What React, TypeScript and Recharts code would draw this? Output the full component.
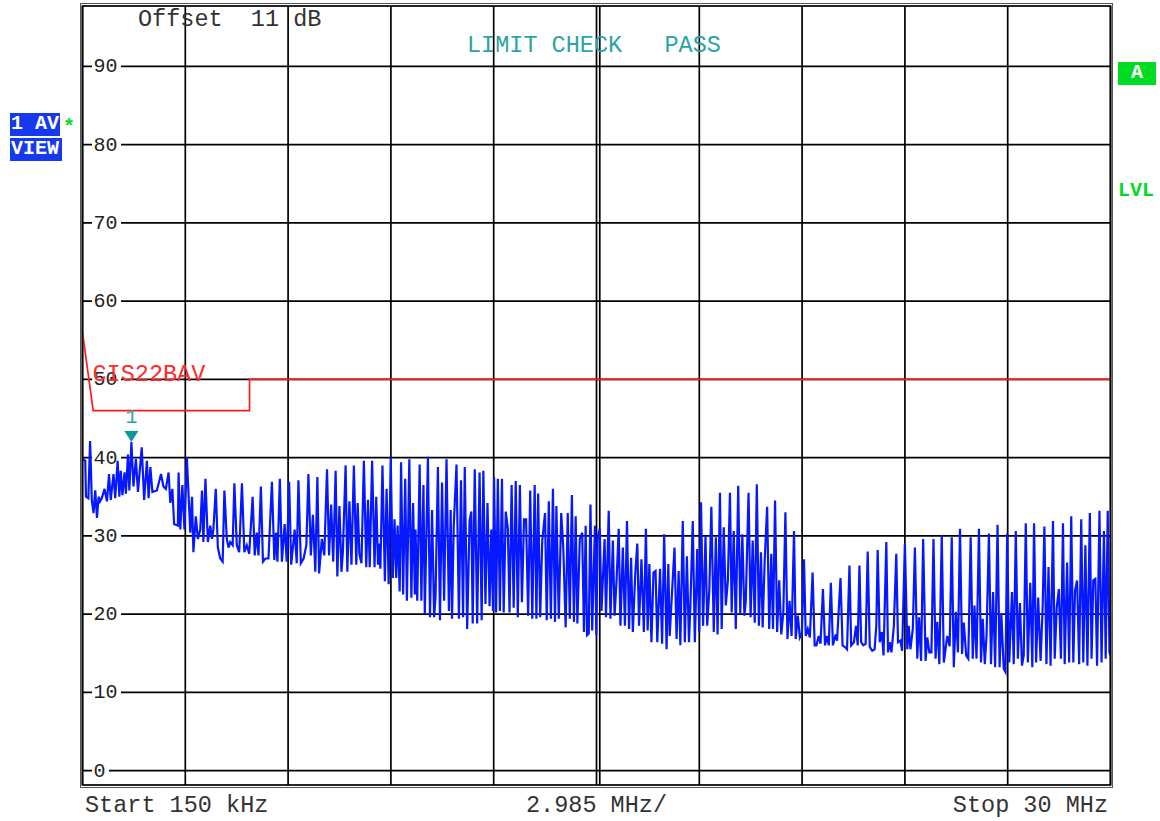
import React from 'react';
import { LineChart, Line, XAxis, YAxis, ReferenceLine, ReferenceDot } from 'recharts';

// trace, [MHz, dBuV], one array per division
const traceDiv0: [number, number][] = [
  [0.15, 39.8], [0.23, 39.6], [0.25, 35.0], [0.32, 34.8], [0.37, 42.1], [0.42, 34.6], [0.47, 32.9], [0.52, 35.8],
  [0.57, 32.3], [0.62, 35.0], [0.66, 34.4], [0.71, 34.8], [0.79, 36.0], [0.86, 34.4], [0.92, 37.9], [0.97, 34.6],
  [1.05, 37.9], [1.10, 34.8], [1.17, 39.6], [1.22, 35.0], [1.26, 38.3], [1.31, 35.2], [1.37, 38.1], [1.41, 35.4],
  [1.47, 40.4], [1.51, 35.8], [1.57, 42.0], [1.63, 36.3], [1.70, 39.8], [1.76, 35.6], [1.87, 41.3], [1.94, 34.6],
  [2.02, 39.6], [2.07, 34.8], [2.12, 38.8], [2.18, 35.6], [2.31, 35.8], [2.43, 37.9], [2.50, 36.3], [2.57, 36.0],
  [2.65, 38.1], [2.70, 34.2], [2.76, 36.0], [2.81, 31.5], [2.92, 31.3], [2.94, 38.1], [2.99, 30.8], [3.05, 36.5],
  [3.11, 30.8],
];
const traceDiv1: [number, number][] = [
  [3.18, 40.0], [3.28, 30.4], [3.33, 35.0], [3.37, 27.9], [3.44, 32.5], [3.50, 29.6], [3.57, 30.8], [3.62, 35.8],
  [3.66, 29.2], [3.72, 37.3], [3.79, 29.2], [3.86, 31.3], [3.91, 29.6], [3.95, 30.8], [4.02, 36.0], [4.08, 28.5],
  [4.15, 27.1], [4.22, 26.7], [4.27, 35.8], [4.34, 29.6], [4.39, 28.5], [4.44, 29.2], [4.51, 28.8], [4.56, 36.7],
  [4.63, 28.8], [4.70, 27.9], [4.78, 36.7], [4.85, 27.9], [4.92, 28.8], [4.99, 27.7], [5.09, 35.0], [5.15, 27.5],
  [5.21, 30.4], [5.26, 27.5], [5.33, 36.3], [5.39, 26.7], [5.46, 27.1], [5.55, 27.1], [5.65, 36.9], [5.72, 26.9],
  [5.77, 30.4], [5.81, 26.7], [5.88, 37.3], [5.94, 26.7], [6.02, 31.5], [6.08, 26.7],
];
const traceDiv2: [number, number][] = [
  [6.15, 36.9], [6.21, 26.3], [6.31, 30.8], [6.37, 26.5], [6.42, 37.1], [6.49, 26.5], [6.57, 27.1], [6.65, 28.8],
  [6.71, 37.9], [6.78, 27.5], [6.84, 32.7], [6.91, 25.4], [6.97, 37.5], [7.02, 25.2], [7.10, 29.6], [7.17, 27.5],
  [7.25, 38.5], [7.31, 27.5], [7.37, 34.0], [7.43, 26.7], [7.50, 38.3], [7.55, 24.8], [7.61, 33.8], [7.67, 25.4],
  [7.71, 27.9], [7.79, 39.0], [7.84, 25.4], [7.90, 34.4], [7.96, 26.3], [8.03, 39.0], [8.10, 26.3], [8.14, 34.2],
  [8.19, 27.7], [8.25, 26.5], [8.32, 39.6], [8.39, 26.0], [8.44, 34.6], [8.49, 26.0], [8.56, 39.6], [8.63, 26.0],
  [8.68, 35.0], [8.73, 26.3], [8.75, 29.0], [8.80, 25.8], [8.86, 39.0], [8.93, 24.2], [8.98, 36.0], [9.04, 23.8],
];
const traceDiv3: [number, number][] = [
  [9.10, 40.0], [9.16, 24.6], [9.21, 32.1], [9.26, 24.6], [9.30, 31.3], [9.36, 22.9], [9.40, 39.4], [9.46, 22.5],
  [9.52, 37.3], [9.57, 21.7], [9.64, 39.8], [9.70, 22.1], [9.75, 34.2], [9.80, 22.5], [9.82, 30.8], [9.87, 21.7],
  [9.94, 39.1], [9.99, 21.7], [10.05, 36.5], [10.09, 20.0], [10.18, 40.1], [10.24, 19.6], [10.30, 33.3], [10.36, 19.6],
  [10.40, 22.1], [10.47, 38.8], [10.53, 19.2], [10.59, 36.8], [10.65, 21.7], [10.72, 39.8], [10.79, 20.4], [10.84, 33.3],
  [10.88, 19.4], [10.93, 31.3], [11.01, 39.1], [11.08, 19.4], [11.14, 37.1], [11.20, 19.6], [11.25, 38.8], [11.32, 18.1],
  [11.39, 31.9], [11.44, 33.1], [11.48, 18.8], [11.54, 38.5], [11.61, 18.8], [11.68, 38.1], [11.74, 19.2], [11.79, 38.3],
  [11.85, 21.3], [11.91, 34.2], [11.97, 21.0], [12.02, 30.8], [12.07, 20.4],
];
const traceDiv4: [number, number][] = [
  [12.10, 37.5], [12.16, 20.2], [12.21, 37.3], [12.27, 20.4], [12.33, 37.3], [12.38, 20.2], [12.44, 33.1], [12.50, 31.0],
  [12.55, 20.2], [12.61, 36.5], [12.67, 20.8], [12.73, 37.0], [12.79, 19.6], [12.85, 36.5], [12.91, 21.5], [12.97, 32.1],
  [13.03, 32.1], [13.09, 19.8], [13.15, 35.8], [13.21, 19.4], [13.28, 36.5], [13.33, 19.4], [13.38, 35.4], [13.44, 19.6],
  [13.50, 29.4], [13.58, 32.9], [13.63, 19.2], [13.69, 34.4], [13.75, 19.4], [13.81, 36.0], [13.87, 19.0], [13.91, 33.8],
  [13.98, 19.4], [14.05, 32.9], [14.11, 28.5], [14.18, 18.3], [14.24, 32.9], [14.30, 19.4], [14.36, 35.2], [14.42, 19.0],
  [14.47, 32.5], [14.52, 18.8], [14.59, 29.6], [14.66, 30.4], [14.71, 17.7], [14.76, 31.3], [14.80, 17.3], [14.85, 17.5],
  [14.90, 34.0], [14.95, 17.9], [15.03, 31.3], [15.07, 17.3],
];
const traceDiv5: [number, number][] = [
  [15.11, 29.8], [15.17, 30.9], [15.22, 20.4], [15.31, 29.6], [15.35, 19.6], [15.43, 33.2], [15.48, 19.4], [15.55, 29.4],
  [15.60, 19.8], [15.66, 24.5], [15.72, 30.9], [15.77, 18.5], [15.84, 28.5], [15.90, 18.5], [15.96, 31.9], [16.02, 18.1],
  [16.08, 27.2], [16.13, 17.7], [16.20, 25.1], [16.26, 29.0], [16.31, 18.5], [16.38, 27.0], [16.45, 17.7], [16.51, 30.9],
  [16.56, 17.9], [16.61, 26.4], [16.67, 16.4], [16.73, 25.3], [16.79, 25.5], [16.84, 16.4], [16.92, 25.8], [16.98, 16.2],
  [17.04, 30.2], [17.11, 15.5], [17.16, 26.4], [17.20, 17.2], [17.26, 22.1], [17.34, 28.5], [17.40, 16.8], [17.46, 25.5],
  [17.51, 16.0], [17.58, 31.9], [17.64, 16.4], [17.70, 27.4], [17.76, 16.4], [17.80, 20.9], [17.87, 31.9], [17.93, 16.4],
  [18.00, 28.3],
];
const traceDiv6: [number, number][] = [
  [18.06, 17.7], [18.11, 34.3], [18.17, 18.5], [18.24, 30.0], [18.29, 18.5], [18.35, 23.0], [18.41, 33.7], [18.48, 17.7],
  [18.54, 29.8], [18.59, 17.4], [18.66, 35.5], [18.71, 18.1], [18.77, 31.1], [18.83, 21.1], [18.89, 24.3], [18.95, 35.5],
  [19.00, 20.2], [19.06, 30.6], [19.12, 18.1], [19.19, 36.4], [19.25, 20.0], [19.31, 30.2], [19.37, 19.8], [19.41, 21.7],
  [19.49, 35.5], [19.55, 19.6], [19.61, 29.4], [19.67, 18.9], [19.73, 36.6], [19.79, 18.5], [19.85, 27.9], [19.90, 18.3],
  [19.96, 27.0], [20.03, 33.7], [20.09, 18.1], [20.15, 27.7], [20.20, 18.1], [20.26, 34.5], [20.32, 17.7], [20.38, 24.3],
  [20.44, 17.4], [20.50, 20.2], [20.56, 33.0], [20.62, 16.8], [20.68, 21.7], [20.74, 17.2], [20.81, 30.6], [20.86, 16.8],
  [20.92, 19.8], [20.98, 17.0],
];
const traceDiv7: [number, number][] = [
  [21.04, 17.6], [21.10, 27.0], [21.15, 17.2], [21.21, 18.1], [21.27, 17.0], [21.35, 25.3], [21.41, 16.0], [21.46, 16.0],
  [21.53, 17.2], [21.58, 16.2], [21.65, 23.2], [21.71, 16.0], [21.77, 17.2], [21.82, 16.0], [21.88, 24.0], [21.94, 16.0],
  [22.02, 17.4], [22.06, 16.6], [22.16, 24.6], [22.22, 16.0], [22.31, 15.7], [22.35, 15.5], [22.42, 26.2], [22.47, 16.0],
  [22.55, 16.4], [22.61, 18.5], [22.66, 16.0], [22.71, 26.2], [22.76, 16.4], [22.82, 16.0], [22.89, 16.2], [22.95, 28.0],
  [23.01, 15.8], [23.08, 15.3], [23.15, 15.5], [23.20, 18.5], [23.24, 28.2], [23.30, 16.4], [23.36, 17.7], [23.41, 14.7],
  [23.49, 29.2], [23.54, 15.1], [23.59, 16.4], [23.64, 15.1], [23.71, 18.5], [23.78, 27.7], [23.83, 16.4], [23.90, 16.6],
  [23.95, 15.3],
];
const traceDiv8: [number, number][] = [
  [24.03, 29.0], [24.10, 15.5], [24.14, 18.5], [24.19, 15.5], [24.26, 18.1], [24.32, 28.5], [24.39, 14.3], [24.44, 19.6],
  [24.50, 14.0], [24.56, 29.6], [24.63, 14.0], [24.68, 17.0], [24.74, 15.1], [24.80, 15.1], [24.86, 29.6], [24.92, 14.3],
  [24.97, 19.0], [25.03, 13.6], [25.10, 30.1], [25.16, 13.8], [25.26, 17.2], [25.33, 15.9], [25.39, 29.8], [25.45, 13.2],
  [25.51, 20.3], [25.57, 15.1], [25.63, 30.9], [25.69, 14.9], [25.74, 18.9], [25.81, 14.7], [25.87, 14.3], [25.94, 29.8],
  [26.00, 14.3], [26.05, 21.1], [26.11, 14.3], [26.18, 30.9], [26.24, 13.8], [26.29, 19.4], [26.35, 13.6], [26.40, 17.2],
  [26.47, 30.3], [26.53, 13.6], [26.59, 22.8], [26.65, 13.2], [26.72, 31.4], [26.78, 13.2], [26.83, 20.0], [26.90, 13.0],
  [26.95, 12.6],
];
const traceDiv9: [number, number][] = [
  [27.00, 30.3], [27.06, 13.8], [27.14, 22.8], [27.19, 13.6], [27.25, 30.6], [27.31, 14.3], [27.37, 21.4], [27.43, 13.4],
  [27.48, 14.7], [27.54, 31.6], [27.60, 13.8], [27.67, 24.0], [27.73, 13.2], [27.78, 31.6], [27.84, 13.8], [27.90, 22.1],
  [27.97, 14.0], [28.03, 20.9], [28.08, 31.2], [28.14, 13.6], [28.20, 26.0], [28.26, 13.4], [28.33, 31.9], [28.38, 14.3],
  [28.44, 20.9], [28.50, 23.2], [28.56, 14.3], [28.62, 31.6], [28.67, 13.6], [28.74, 26.6], [28.80, 13.8], [28.86, 32.5],
  [28.92, 13.8], [28.97, 23.0], [29.03, 24.3], [29.09, 13.6], [29.15, 32.1], [29.21, 13.8], [29.27, 28.8], [29.33, 13.4],
  [29.40, 32.9], [29.45, 14.3], [29.50, 24.3], [29.56, 24.5], [29.61, 13.4], [29.68, 33.2], [29.74, 13.8], [29.81, 30.6],
  [29.86, 14.3], [29.92, 33.2], [29.97, 15.1], [30.00, 14.7],
];

// CISPR 22 class B average limit
const limitMHz = [0.15, 0.46, 5.0, 5.0, 30.0];
const limitDb = [56, 46, 46, 50, 50];

const freqGrid = [0.15, 3.135, 6.12, 9.105, 12.09, 15.075, 18.06, 21.045, 24.03, 27.015, 30];
const dbTicks = [0, 10, 20, 30, 40, 50, 60, 70, 80, 90];
const centerSecondLine = 15.17;
const marker = { f: 1.57, db: 42.0, label: '1' };

const trace = [
  ...traceDiv0, ...traceDiv1, ...traceDiv2, ...traceDiv3, ...traceDiv4,
  ...traceDiv5, ...traceDiv6, ...traceDiv7, ...traceDiv8, ...traceDiv9,
].map(([f, v]) => ({ f, v }));
const limit = limitMHz.map((f, i) => ({ f, v: limitDb[i] }));

const W = 1160;
const H = 821;
const PLOT_LEFT = 82.5;
const PLOT_RIGHT = 1110.5;
const PLOT_TOP = 6;
const PLOT_BOTTOM = 785;
const MONO = '"Liberation Mono", "DejaVu Sans Mono", monospace';
const BLUE_BOX = '#1638ef';
const GREEN = '#00dc22';
const TEAL = '#2aa4a4';
const GRID = '#000';

// keep runs of spaces in svg text
const sp = (s: string) => s.replace(/ /g, '\u00a0');

const dbLabel = (value: number) => (props: any) => {
  const vb = props.viewBox || {};
  const y = vb.y ?? 0;
  const label = String(value);
  return (
    <g>
      <rect x={PLOT_LEFT + 9.5} y={y - 8} width={label.length * 12 + 5} height={16} fill="#fff" />
      <text x={PLOT_LEFT + 11} y={y + 6} fontFamily={MONO} fontSize={20} fill="#222">
        {label}
      </text>
    </g>
  );
};

const MarkerShape = (props: any) => {
  const { cx, cy } = props;
  return (
    <g>
      <polygon points={`${cx - 7},${cy - 11} ${cx + 7},${cy - 11} ${cx},${cy}`} fill="#0a9a9a" />
      <text x={cx} y={cy - 19} textAnchor="middle" fontFamily={MONO} fontSize={20} fill={TEAL}>
        {marker.label}
      </text>
    </g>
  );
};

export default function App() {
  const txt = { fontFamily: MONO, fontSize: 23.5, fill: '#333' };
  return (
    <div style={{ position: 'absolute', left: 0, top: 0, width: W, height: H, background: '#fff' }}>
      <LineChart
        width={W}
        height={H}
        margin={{ top: PLOT_TOP, right: W - PLOT_RIGHT, bottom: H - PLOT_BOTTOM, left: PLOT_LEFT }}
      >
        <XAxis
          type="number"
          dataKey="f"
          domain={[0.15, 30]}
          ticks={freqGrid}
          allowDataOverflow
          height={0}
          tick={false}
          tickLine={false}
          axisLine={false}
        />
        <YAxis
          type="number"
          domain={[-1.85, 97.72]}
          ticks={dbTicks}
          allowDataOverflow
          width={0}
          tick={false}
          tickLine={false}
          axisLine={false}
        />
        {freqGrid.map((f) => (
          <ReferenceLine key={`x${f}`} x={f} stroke={GRID} strokeWidth={1.7} />
        ))}
        <ReferenceLine x={centerSecondLine} stroke={GRID} strokeWidth={1.7} />
        {dbTicks.map((d) => (
          <ReferenceLine key={`y${d}`} y={d} stroke={GRID} strokeWidth={1.7} label={dbLabel(d)} />
        ))}
        <Line
          data={limit}
          dataKey="v"
          type="linear"
          stroke="#ff1a1a"
          strokeWidth={1.7}
          dot={false}
          isAnimationActive={false}
        />
        <Line
          data={trace}
          dataKey="v"
          type="linear"
          stroke="#0618ff"
          strokeWidth={2.2}
          dot={false}
          isAnimationActive={false}
        />
        <ReferenceDot x={marker.f} y={marker.db} r={0} shape={<MarkerShape />} ifOverflow="visible" />
      </LineChart>

      <svg
        width={W}
        height={H}
        style={{ position: 'absolute', left: 0, top: 0, pointerEvents: 'none' }}
      >
        <rect x={80.5} y={3.5} width={1032} height={784} fill="none" stroke="#555" strokeWidth={1} />
        <rect
          x={PLOT_LEFT}
          y={PLOT_TOP}
          width={PLOT_RIGHT - PLOT_LEFT}
          height={PLOT_BOTTOM - PLOT_TOP}
          fill="none"
          stroke="#000"
          strokeWidth={1.7}
        />

        <text x={138} y={26} {...txt}>{sp('Offset  11 dB')}</text>
        <text x={467} y={52} {...txt} fill={TEAL}>{sp('LIMIT CHECK   PASS')}</text>
        <text x={92.5} y={381} {...txt} fill="#ff2a2a">CIS22BAV</text>

        <text x={85} y={812} {...txt}>{sp('Start 150 kHz')}</text>
        <text x={526} y={812} {...txt}>{sp('2.985 MHz/')}</text>
        <text x={1108} y={812} {...txt} textAnchor="end">{sp('Stop 30 MHz')}</text>

        <rect x={10} y={113} width={50} height={23} fill={BLUE_BOX} />
        <text x={11} y={129} fontFamily={MONO} fontWeight="bold" fontSize={20} fill="#fff">
          {sp('1 AV')}
        </text>
        <text x={63} y={133} fontFamily={MONO} fontWeight="bold" fontSize={20} fill={GREEN}>*</text>
        <rect x={10} y={138} width={52} height={23} fill={BLUE_BOX} />
        <text x={11} y={154} fontFamily={MONO} fontWeight="bold" fontSize={20} fill="#fff">VIEW</text>

        <rect x={1118} y={62} width={38} height={23} fill={GREEN} />
        <text x={1137} y={78} textAnchor="middle" fontFamily={MONO} fontWeight="bold" fontSize={20} fill="#fff">A</text>
        <text x={1118} y={196} fontFamily={MONO} fontWeight="bold" fontSize={20} fill={GREEN}>LVL</text>
      </svg>
    </div>
  );
}
